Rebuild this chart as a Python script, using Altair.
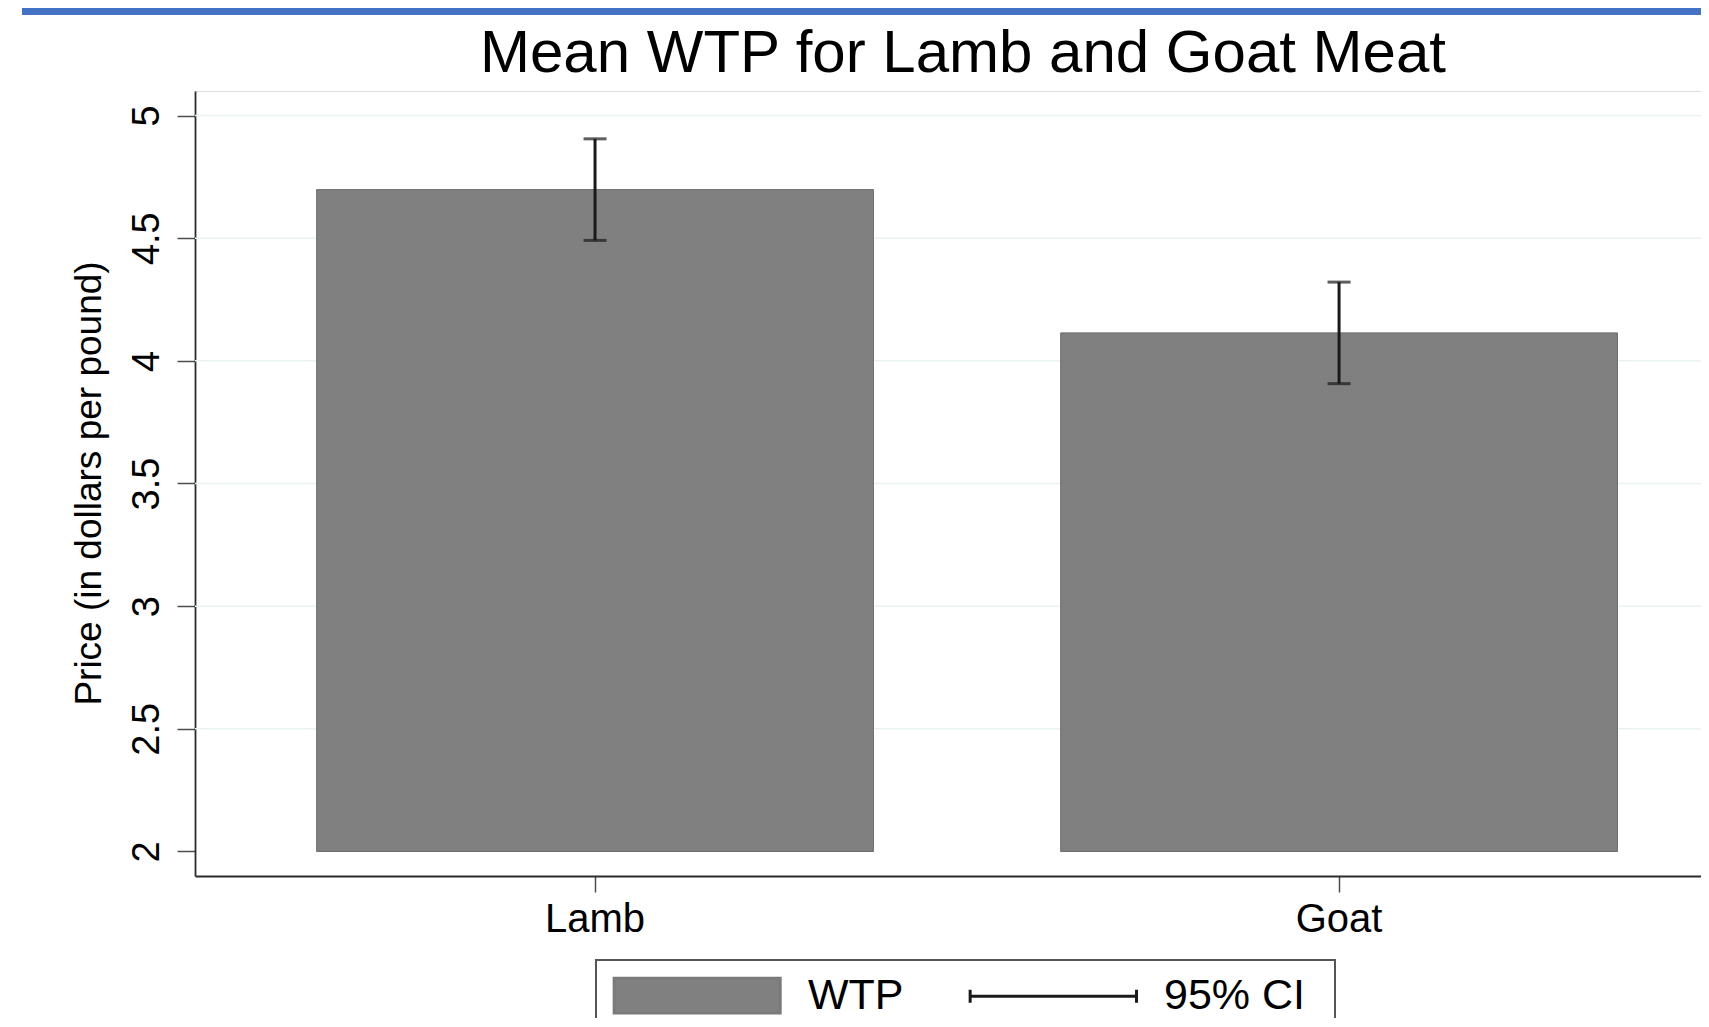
import altair as alt
import pandas as pd

# ---- data ----
categories = ["Lamb", "Goat"]
wtp_means = [4.698, 4.114]
ci_lower = [4.491, 3.907]
ci_upper = [4.905, 4.321]
y_ticks = [2, 2.5, 3, 3.5, 4, 4.5, 5]
grid_values = [2.5, 3, 3.5, 4, 4.5, 5]
legend_items = ["WTP", "95% CI"]

FONT = "Liberation Sans"
W, H = 1506, 785

df = pd.DataFrame({"category": categories, "mean": wtp_means, "lo": ci_lower, "hi": ci_upper})
grid_df = pd.DataFrame({"v": grid_values})
legend_df = pd.DataFrame({"series": legend_items})

x_scale = alt.Scale(domain=categories, paddingInner=0.2517, paddingOuter=0.1379, align=0.5928)
y_scale = alt.Scale(domain=[1.9, 5.1], nice=False, zero=False)

x_axis = alt.Axis(
    title=None, labelAngle=0, labelFont=FONT, labelFontSize=40, labelColor="black",
    labelBaseline="alphabetic", labelPadding=39, tickSize=16, tickColor="#4d4d4d",
    tickWidth=1.5, domainColor="#2b2b2b", domainWidth=1.8, grid=False,
)
y_axis = alt.Axis(
    title="Price (in dollars per pound)", values=y_ticks, format="~g",
    labelAngle=270, labelAlign="center", labelBaseline="alphabetic", labelPadding=19,
    labelFont=FONT, labelFontSize=38, labelColor="black",
    tickSize=18, tickColor="#4d4d4d", tickWidth=1.5,
    domainColor="#2b2b2b", domainWidth=1.8, grid=False,
    titleFont=FONT, titleFontSize=37, titleFontWeight="normal", titleColor="black",
    titleAngle=270, titleAlign="center", titleBaseline="alphabetic", titleX=-95, titleY=392,
)

x_enc = alt.X("category:N", scale=x_scale, sort=categories, axis=x_axis)

band = alt.Chart(alt.Data(values=[{}])).mark_rect(color="#4472c4").encode(
    x=alt.value(-173), x2=alt.value(W), y=alt.value(-83), y2=alt.value(-76)
)

grid = alt.Chart(grid_df).mark_rule(color="#eaf2f3", strokeWidth=1.5).encode(
    y=alt.Y("v:Q", scale=y_scale, axis=y_axis)
)

bars = alt.Chart(df).mark_bar(color="#808080", stroke="#6b6b6b", strokeWidth=1).encode(
    x=x_enc,
    y=alt.Y("mean:Q", scale=y_scale, axis=y_axis),
    y2=alt.datum(2),
)

whisker = alt.Chart(df).mark_rule(color="#1a1a1a", strokeWidth=3).encode(
    x=x_enc, y=alt.Y("lo:Q", scale=y_scale, axis=y_axis), y2="hi:Q"
)
cap_lo = alt.Chart(df).mark_tick(color="#1a1a1a", thickness=3, size=23, orient="horizontal").encode(
    x=x_enc, y=alt.Y("lo:Q", scale=y_scale, axis=y_axis)
)
cap_hi = alt.Chart(df).mark_tick(color="#1a1a1a", thickness=3, size=23, orient="horizontal").encode(
    x=x_enc, y=alt.Y("hi:Q", scale=y_scale, axis=y_axis)
)

swatch_path = "M-1,-1H8.57V1H-1Z"
ci_path = "M-1,0H8.59M-1,-0.375V0.375M8.59,-0.375V0.375"

leg = alt.Legend(
    title="\u00a0", titleOrient="right", titlePadding=16, titleFontSize=8,
    orient="none", legendX=401, legendY=869, direction="horizontal",
    labelFont=FONT, labelFontSize=43, labelColor="black", labelLimit=400,
    symbolSize=1204, symbolStrokeWidth=3, labelOffset=155, columnPadding=60,
    padding=14, strokeColor="#555555", fillColor="white", cornerRadius=0,
)

legend_layer = alt.Chart(legend_df).transform_filter("false").mark_point(filled=True, opacity=1).encode(
    shape=alt.Shape("series:N", scale=alt.Scale(domain=legend_items, range=[swatch_path, ci_path]), legend=leg),
    fill=alt.Fill("series:N", scale=alt.Scale(domain=legend_items, range=["#808080", "transparent"]), legend=leg),
    stroke=alt.Stroke("series:N", scale=alt.Scale(domain=legend_items, range=["#7a7a7a", "#1a1a1a"]), legend=leg),
)

chart = alt.layer(band, grid, bars, whisker, cap_lo, cap_hi, legend_layer).properties(
    width=W, height=H,
    title=alt.TitleParams(
        text="Mean WTP for Lamb and Goat Meat", font=FONT, fontSize=60, fontWeight="normal",
        color="black", anchor="middle", baseline="alphabetic", offset=-66, dx=15, dy=58,
    ),
    autosize=alt.AutoSizeParams(type="none"),
    padding={"left": 187, "top": 83, "right": 0, "bottom": 142},
).configure_view(strokeWidth=0).configure(background="white").configure_legend(strokeWidth=2)

chart.save("out.html", embed_options={"renderer": "svg", "actions": False})
